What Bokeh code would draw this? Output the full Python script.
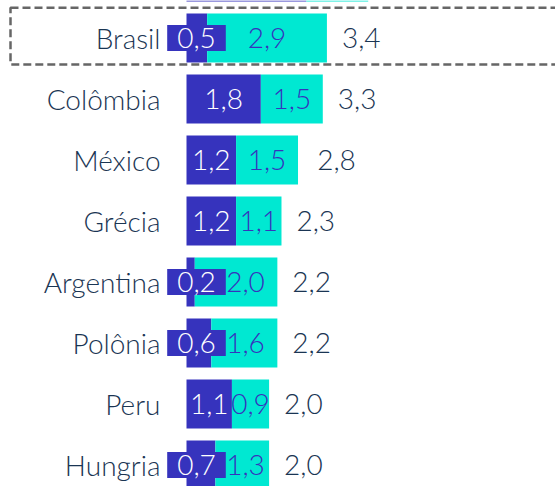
from bokeh.plotting import figure
from bokeh.models import ColumnDataSource, Range1d, BoxAnnotation
from bokeh.core.properties import value
from bokeh.embed import file_html
from bokeh.resources import INLINE

# ---- data ----
countries = ["Brasil", "Colômbia", "México", "Grécia", "Argentina", "Polônia", "Peru", "Hungria"]
dark_vals = [0.5, 1.8, 1.2, 1.2, 0.2, 0.6, 1.1, 0.7]
cyan_vals = [2.9, 1.5, 1.5, 1.1, 2.0, 1.6, 0.9, 1.3]
totals = [3.4, 3.3, 2.8, 2.3, 2.2, 2.2, 2.0, 2.0]
# row cut off at the top edge (only its bottom edge is visible)
top_dark = [2.9]
top_cyan = [1.5]

DARK = "#3633BD"
CYAN = "#00E8D2"
NAVY = "#1A3553"
FONT = value("'Lato Light', Lato")
FS = "28px"

W, H = 555, 486
PPU = 41.3          # pixels per unit on x
X0 = 186            # pixel where 0 lies
PITCH = 61          # pixels per row
Y_BRASIL = 37.5     # pixel centre of Brasil row
FIT_PX = 40         # a dark label fits inside its segment above this width

def fmt(v):
    return f"{v:.1f}".replace(".", ",")

ys = [-i for i in range(len(countries))]
boxed = [d * PPU < FIT_PX for d in dark_vals]
dark_x = [10 / PPU if b else d / 2 for d, b in zip(dark_vals, boxed)]
cyan_x = [max(d + c / 2, 59 / PPU) if b else d + c / 2
          for d, c, b in zip(dark_vals, cyan_vals, boxed)]

def cols(idx):
    return dict(
        y=[ys[i] for i in idx],
        dl=[fmt(dark_vals[i]) for i in idx],
        dx=[dark_x[i] for i in idx],
    )

src = ColumnDataSource(dict(
    y=ys,
    name=countries,
    dark=dark_vals,
    stack=[d + c for d, c in zip(dark_vals, cyan_vals)],
    total=totals,
    cl=[fmt(v) for v in cyan_vals],
    tl=[fmt(v) for v in totals],
    cx=cyan_x,
    zero=[0] * len(countries),
))
boxed_src = ColumnDataSource(cols([i for i, b in enumerate(boxed) if b]))
plain_src = ColumnDataSource(cols([i for i, b in enumerate(boxed) if not b]))
top_src = ColumnDataSource(dict(
    y=[1], zero=[0], dark=top_dark,
    stack=[d + c for d, c in zip(top_dark, top_cyan)],
))

p = figure(width=W, height=H, output_backend="svg", toolbar_location=None,
           x_range=Range1d(-X0 / PPU, (W - X0) / PPU),
           y_range=Range1d(-(H - Y_BRASIL) / PITCH, Y_BRASIL / PITCH),
           min_border=0)
p.axis.visible = False
p.grid.visible = False
p.outline_line_color = None
p.background_fill_color = "white"

for s in (src, top_src):
    p.hbar(y="y", left="zero", right="dark", height=0.8, source=s,
           fill_color=DARK, line_color=None)
    p.hbar(y="y", left="dark", right="stack", height=0.8, source=s,
           fill_color=CYAN, line_color=None)

p.text(x="cx", y="y", text="cl", source=src, text_color=DARK, text_font=FONT,
       text_font_size=FS, text_align="center", text_baseline="middle")
p.text(x="dx", y="y", text="dl", source=plain_src, text_color="white", text_font=FONT,
       text_font_size=FS, text_align="center", text_baseline="middle")
p.text(x="dx", y="y", text="dl", source=boxed_src, text_color="white", text_font=FONT,
       text_font_size=FS, text_align="center", text_baseline="middle",
       background_fill_color=DARK, padding=(10, 3))
p.text(x="total", y="y", text="tl", source=src, text_color=NAVY, text_font=FONT,
       text_font_size=FS, text_align="left", text_baseline="middle", x_offset=15)
p.text(x="zero", y="y", text="name", source=src, text_color=NAVY, text_font=FONT,
       text_font_size=FS, text_align="right", text_baseline="middle", x_offset=-26)

box = BoxAnnotation(left=(10 - X0) / PPU, right=20,
                    top=(Y_BRASIL - 7.2) / PITCH, bottom=-(64 - Y_BRASIL) / PITCH,
                    fill_alpha=0, line_color="#666666", line_alpha=1.0,
                    line_width=2.5, line_dash="8 4")
p.add_layout(box)

open("out.html", "w").write(file_html(p, INLINE))
